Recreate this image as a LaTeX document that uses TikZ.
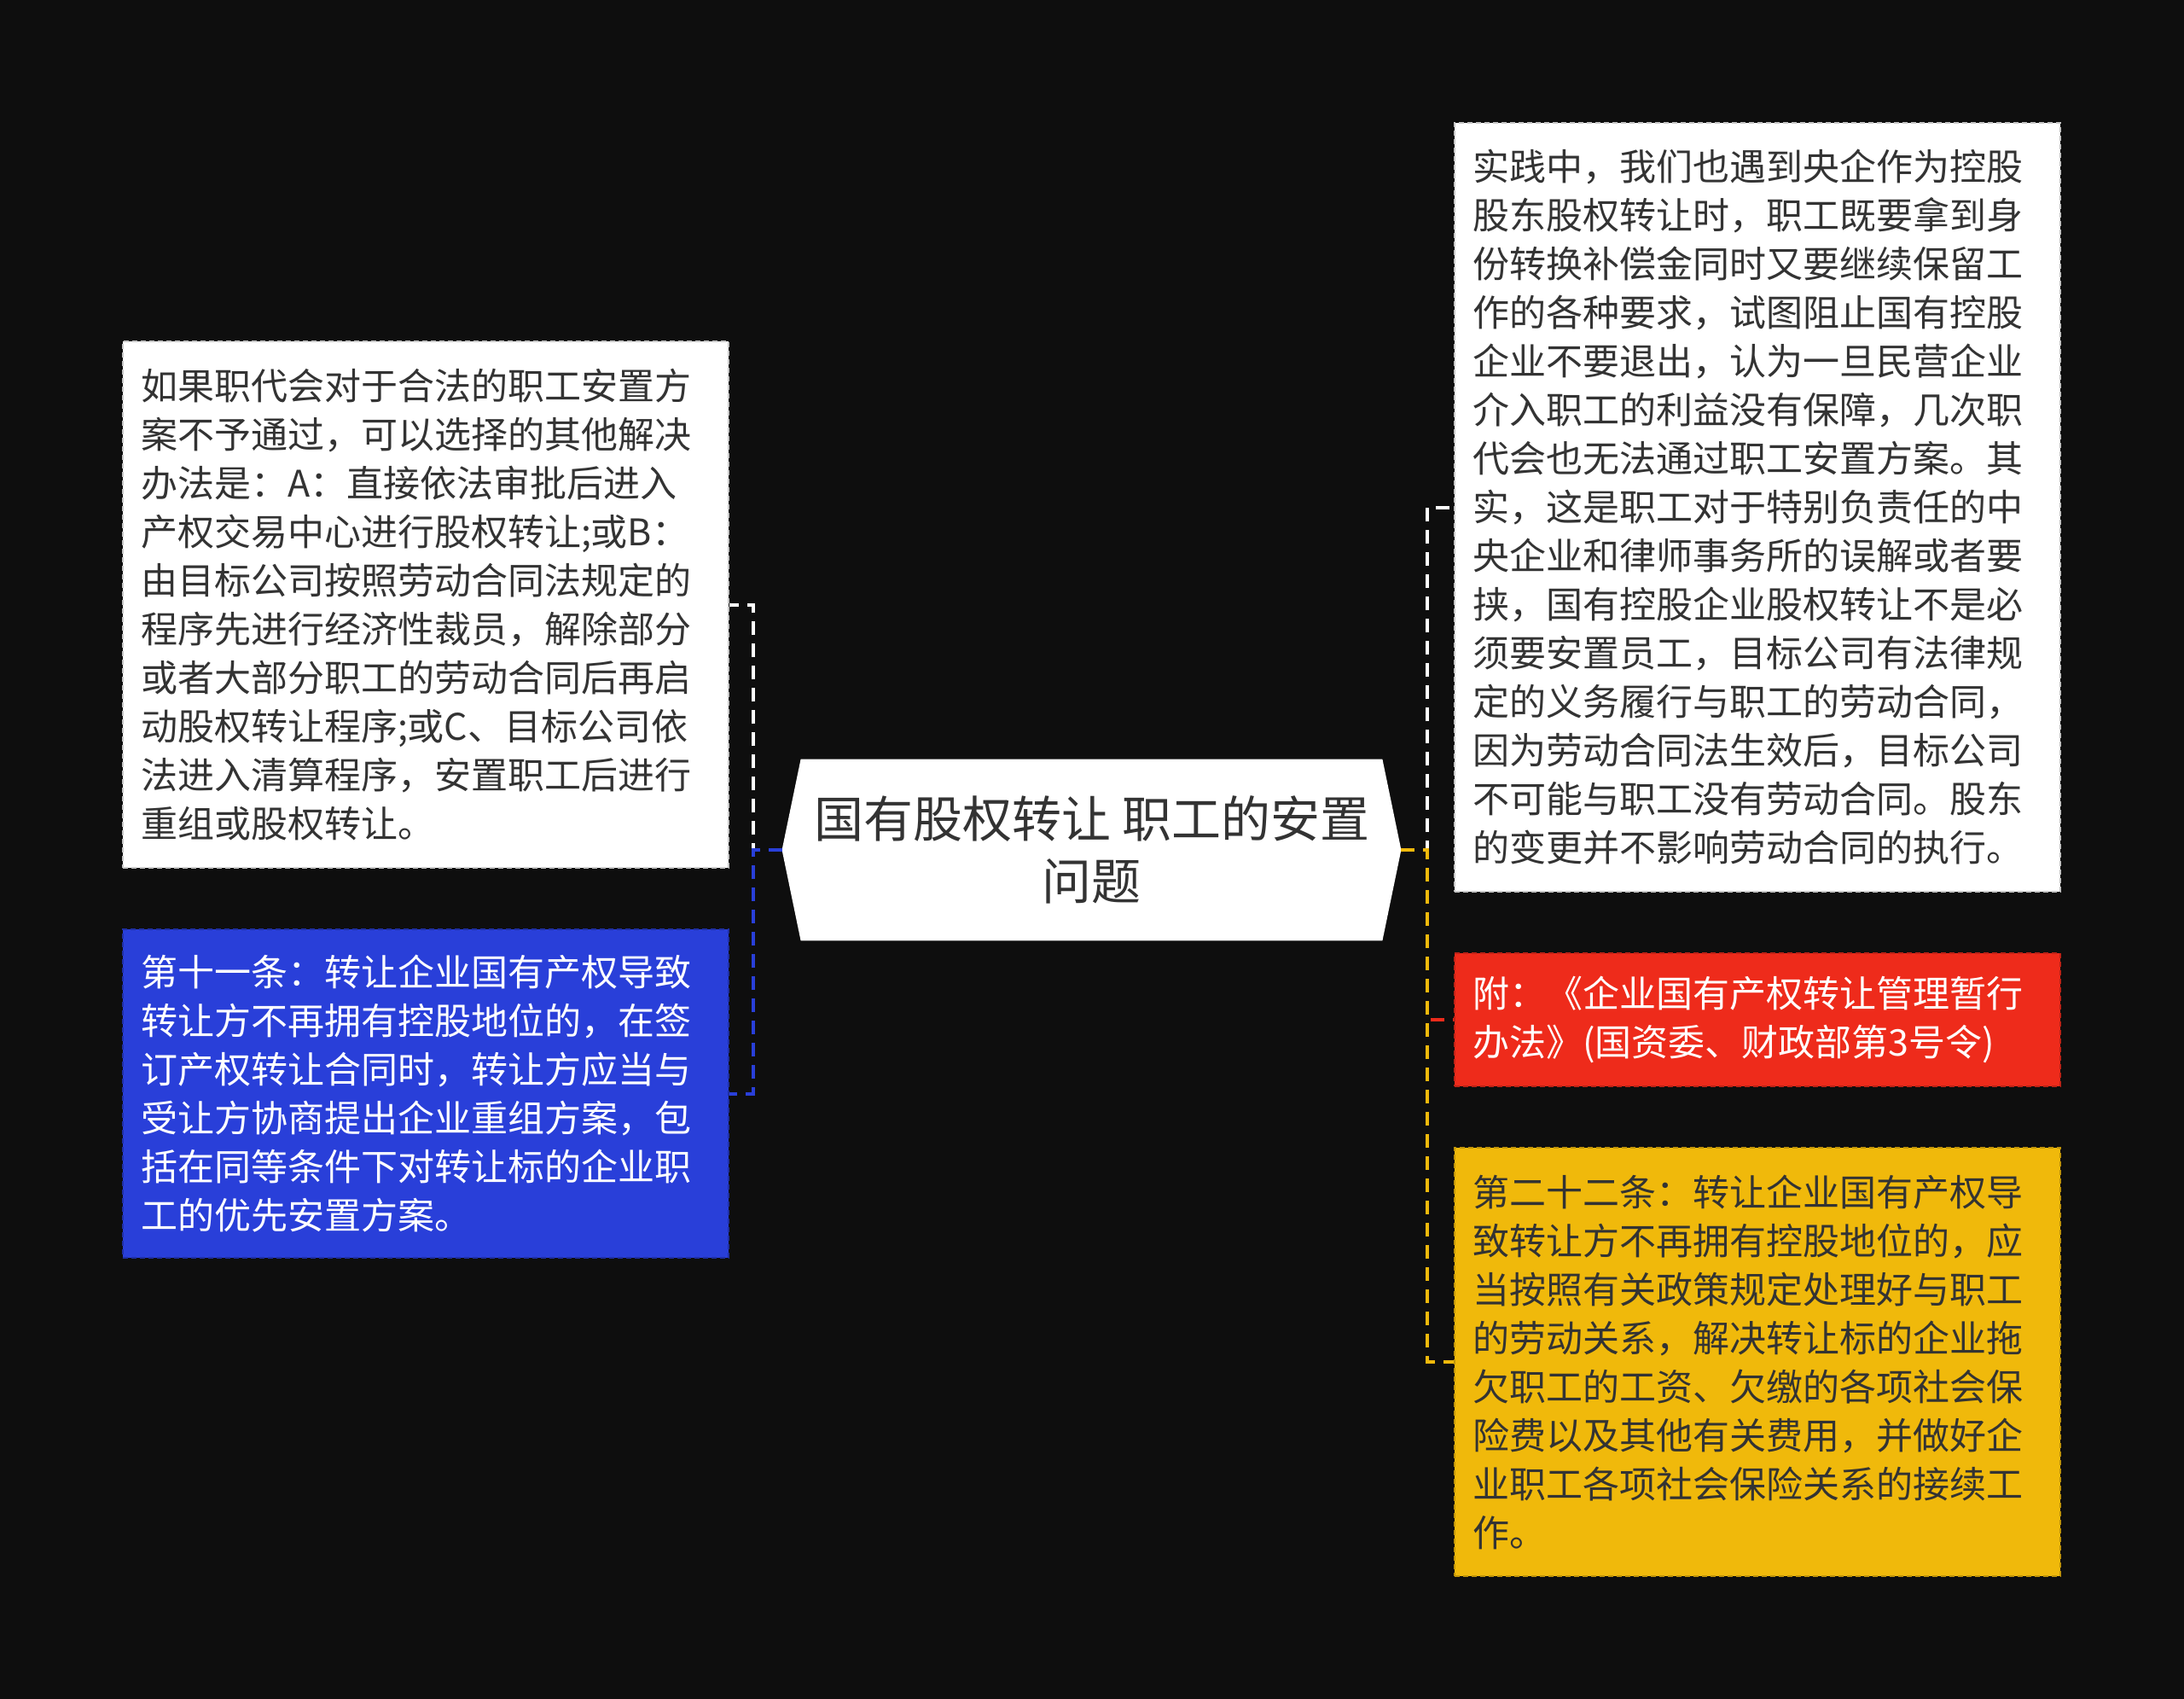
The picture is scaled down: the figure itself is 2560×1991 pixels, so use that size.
\documentclass[tikz,border=0pt]{standalone}
\usepackage{fontspec}
\setmainfont{Noto Sans CJK SC}
\usetikzlibrary{calc}
\definecolor{bg}{RGB}{14,14,14}
\definecolor{txt}{RGB}{51,51,51}
\definecolor{cblue}{RGB}{41,63,217}
\definecolor{cred}{RGB}{238,43,27}
\definecolor{cyellow}{RGB}{240,185,11}
\pgfdeclarelayer{background}
\pgfsetlayers{background,main}
\begin{document}
\begin{tikzpicture}[x=0.5pt,y=-0.5pt,
  box/.style={rectangle, line width=1pt, dash pattern=on 3pt off 2pt,
    text width=334pt, inner xsep=10.5pt, inner ysep=0pt, minimum width=355pt,
    align=left, font=\fontsize{21.5pt}{28.5pt}\selectfont},
  conn/.style={line width=2pt, dash pattern=on 8pt off 5pt}]
\begin{pgfonlayer}{background}
\fill[bg] (0,0) rectangle (2560,1991);
\end{pgfonlayer}
\useasboundingbox (0,0) rectangle (2560,1991);

\node[box, fill=white, draw=gray!45, text=txt, minimum height=308.5pt] (l1) at (499,708.5)
{如果职代会对于合法的职工安置方\\案不予通过，可以选择的其他解决\\办法是：A：直接依法审批后进入\\产权交易中心进行股权转让;或B：\\由目标公司按照劳动合同法规定的\\程序先进行经济性裁员，解除部分\\或者大部分职工的劳动合同后再启\\动股权转让程序;或C、目标公司依\\法进入清算程序，安置职工后进行\\重组或股权转让。};

\node[box, fill=cblue, draw=cblue!75!black, text=white, minimum height=192.5pt] (l2) at (499,1281.5)
{第十一条：转让企业国有产权导致\\转让方不再拥有控股地位的，在签\\订产权转让合同时，转让方应当与\\受让方协商提出企业重组方案，包\\括在同等条件下对转让标的企业职\\工的优先安置方案。};

\node[font=\fontsize{29pt}{36.5pt}\selectfont, minimum width=362.5pt, minimum height=106pt,
  inner sep=0pt, align=center, text=txt] (c) at (1279.5,996)
{国有股权转让 职工的安置\\问题};

\node[box, fill=white, draw=gray!45, text=txt, minimum height=450.5pt] (r1) at (2060,594.5)
{实践中，我们也遇到央企作为控股\\股东股权转让时，职工既要拿到身\\份转换补偿金同时又要继续保留工\\作的各种要求，试图阻止国有控股\\企业不要退出，认为一旦民营企业\\介入职工的利益没有保障，几次职\\代会也无法通过职工安置方案。其\\实，这是职工对于特别负责任的中\\央企业和律师事务所的误解或者要\\挟，国有控股企业股权转让不是必\\须要安置员工，目标公司有法律规\\定的义务履行与职工的劳动合同，\\因为劳动合同法生效后，目标公司\\不可能与职工没有劳动合同。股东\\的变更并不影响劳动合同的执行。};

\node[box, fill=cred, draw=cred!80!black, text=white, minimum height=78pt] (r2) at (2060,1195)
{附：《企业国有产权转让管理暂行\\办法》(国资委、财政部第3号令)};

\node[box, fill=cyellow, draw=cyellow!80!black, text=txt, minimum height=251pt] (r3) at (2060,1596)
{第二十二条：转让企业国有产权导\\致转让方不再拥有控股地位的，应\\当按照有关政策规定处理好与职工\\的劳动关系，解决转让标的企业拖\\欠职工的工资、欠缴的各项社会保\\险费以及其他有关费用，并做好企\\业职工各项社会保险关系的接续工\\作。};

\begin{pgfonlayer}{background}
\fill[white] (c.west) -- ($(c.north west)+(22,0)$) -- ($(c.north east)+(-22,0)$) -- (c.east)
  -- ($(c.south east)+(-22,0)$) -- ($(c.south west)+(22,0)$) -- cycle;
\end{pgfonlayer}

\draw[conn, draw=white] (c.west) -- ++(-34,0) |- (l1.east);
\draw[conn, draw=cblue] (c.west) -- ++(-34,0) |- (l2.east);
\draw[conn, draw=white] (c.east) -- ++(31,0) |- (r1.west);
\draw[conn, draw=cred] (c.east) -- ++(31,0) |- (r2.west);
\draw[conn, draw=cyellow] (c.east) -- ++(31,0) |- (r3.west);
\end{tikzpicture}
\end{document}
